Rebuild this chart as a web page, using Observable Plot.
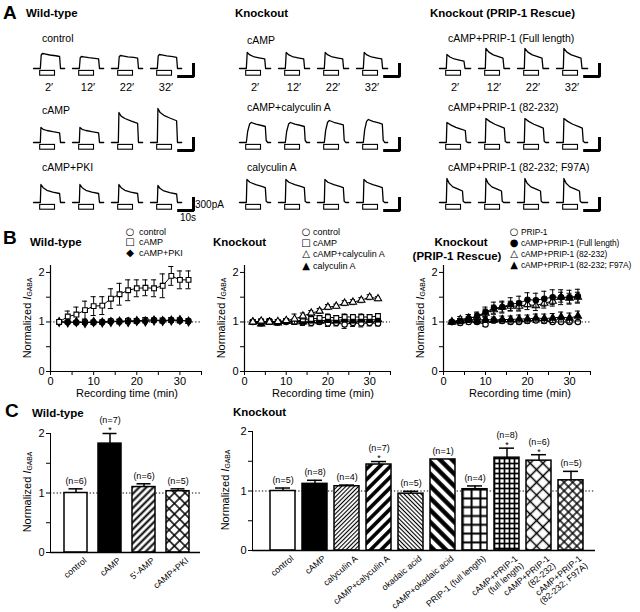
<!DOCTYPE html>
<html><head><meta charset="utf-8">
<script src="https://cdn.jsdelivr.net/npm/d3@7"></script>
<script src="https://cdn.jsdelivr.net/npm/@observablehq/plot@0.6"></script>
<style>
body{margin:0;background:#fff;}
#fig{position:relative;width:640px;height:612px;font-family:"Liberation Sans",Arial,Helvetica,sans-serif;color:#000;overflow:hidden;background:#fff;}
#fig svg{overflow:visible;}
.sym{font-family:"DejaVu Sans",sans-serif;}
sub{font-size:0.62em;vertical-align:-0.25em;}
</style></head><body>
<svg width="0" height="0" style="position:absolute"><defs>
<pattern id="p-wt5" patternUnits="userSpaceOnUse" width="5" height="5" patternTransform="rotate(45)"><rect width="5" height="5" fill="white"/><line x1="2.5" y1="0" x2="2.5" y2="5" stroke="black" stroke-width="2"/></pattern>
<pattern id="p-wtx" patternUnits="userSpaceOnUse" width="7.5" height="7.5" patternTransform="rotate(45)"><rect width="7.5" height="7.5" fill="white"/><line x1="3.75" y1="0" x2="3.75" y2="7.5" stroke="black" stroke-width="1.5"/><line x1="0" y1="3.75" x2="7.5" y2="3.75" stroke="black" stroke-width="1.5"/></pattern>
<pattern id="p-thinR" patternUnits="userSpaceOnUse" width="3" height="3" patternTransform="rotate(45)"><rect width="3" height="3" fill="white"/><line x1="1.5" y1="0" x2="1.5" y2="3" stroke="black" stroke-width="1.1"/></pattern>
<pattern id="p-thickR" patternUnits="userSpaceOnUse" width="7.5" height="7.5" patternTransform="rotate(45)"><rect width="7.5" height="7.5" fill="white"/><line x1="3.75" y1="0" x2="3.75" y2="7.5" stroke="black" stroke-width="3.6"/></pattern>
<pattern id="p-thinL" patternUnits="userSpaceOnUse" width="3" height="3" patternTransform="rotate(-45)"><rect width="3" height="3" fill="white"/><line x1="1.5" y1="0" x2="1.5" y2="3" stroke="black" stroke-width="1.1"/></pattern>
<pattern id="p-thickL" patternUnits="userSpaceOnUse" width="8.5" height="8.5" patternTransform="rotate(-45)"><rect width="8.5" height="8.5" fill="white"/><line x1="4.25" y1="0" x2="4.25" y2="8.5" stroke="black" stroke-width="4.4"/></pattern>
<pattern id="p-gridL" patternUnits="userSpaceOnUse" width="8.8" height="8.8"><rect width="8.8" height="8.8" fill="white"/><line x1="4.4" y1="0" x2="4.4" y2="8.8" stroke="black" stroke-width="2"/><line x1="0" y1="4.4" x2="8.8" y2="4.4" stroke="black" stroke-width="2"/></pattern>
<pattern id="p-gridS" patternUnits="userSpaceOnUse" width="5" height="5"><rect width="5" height="5" fill="white"/><line x1="2.5" y1="0" x2="2.5" y2="5" stroke="black" stroke-width="1.7"/><line x1="0" y1="2.5" x2="5" y2="2.5" stroke="black" stroke-width="1.7"/></pattern>
<pattern id="p-diaL" patternUnits="userSpaceOnUse" width="9" height="9" patternTransform="rotate(45)"><rect width="9" height="9" fill="white"/><line x1="4.5" y1="0" x2="4.5" y2="9" stroke="black" stroke-width="1.5"/><line x1="0" y1="4.5" x2="9" y2="4.5" stroke="black" stroke-width="1.5"/></pattern>
<pattern id="p-diaS" patternUnits="userSpaceOnUse" width="6" height="6" patternTransform="rotate(45)"><rect width="6" height="6" fill="white"/><line x1="3" y1="0" x2="3" y2="6" stroke="black" stroke-width="1.4"/><line x1="0" y1="3" x2="6" y2="3" stroke="black" stroke-width="1.4"/></pattern>
</defs></svg>
<div id="fig"></div>
<script>
// ---------------- DATA ----------------
// Panel A: GABA-evoked currents at 2, 12, 22, 32 min
const times = ["2\u2032", "12\u2032", "22\u2032", "32\u2032"];
const groupTitles = ["Wild-type", "Knockout", "Knockout (PRIP-1 Rescue)"];
const rowLabels = [
  ["control", "cAMP", "cAMP+PKI"],
  ["cAMP", "cAMP+calyculin A", "calyculin A"],
  ["cAMP+PRIP-1 (Full length)", "cAMP+PRIP-1 (82-232)", "cAMP+PRIP-1 (82-232; F97A)"]
];
// peak amplitude (pA) of each of the four traces in each row
const traceAmps = [
  [[375, 300, 325, 350], [375, 375, 750, 850], [450, 450, 450, 425]],
  [[400, 400, 400, 400], [500, 500, 550, 575], [575, 575, 575, 575]],
  [[350, 500, 500, 500], [500, 600, 600, 600], [600, 600, 600, 600]]
];
// current time course: [time (s), fraction of peak]
const traceShapes = [
  [
    [[0,0],[4.6,0],[5.2,0.9],[6,1],[7.5,0.97],[11,0.9],[15,0.85],[17.6,0.8],[18.2,0],[21,0]],
    [[0,0],[4.6,0],[5,1],[6.5,0.88],[9,0.8],[13,0.72],[17.6,0.64],[18.2,0],[21,0]],
    [[0,0],[4.6,0],[5,1],[6.5,0.82],[9,0.68],[13,0.58],[17.6,0.5],[18.2,0],[21,0]]
  ],
  [
    [[0,0],[4.6,0],[5.2,1],[7,0.85],[10,0.72],[14,0.65],[17,0.6],[17.6,0],[21,0]],
    [[0,0],[4.6,0],[5.5,0.55],[6.8,0.92],[8,1],[11,0.92],[15,0.85],[17.4,0.8],[18,0.1],[19,0],[21,0]],
    [[0,0],[4.6,0],[5,1],[7,0.88],[11,0.78],[15,0.7],[17.4,0.65],[18,0.05],[19,0],[21,0]]
  ],
  [
    [[0,0],[4.6,0],[5,1],[7,0.82],[10,0.68],[14,0.58],[16.5,0.52],[17.2,0],[21,0]],
    [[0,0],[4.6,0],[5,1],[7.5,0.88],[11,0.76],[15,0.66],[17.4,0.6],[18,0.05],[19,0],[21,0]],
    [[0,0],[4.6,0],[5,1],[6.5,0.8],[9,0.65],[13,0.55],[15.5,0.48],[16,0.05],[17,0],[21,0]]
  ]
];
const gabaApplication = [4.5, 14.5];   // s
const scaleBar = {pA: 300, s: 10};

// Panel B: normalized I_GABA vs recording time
const minutes = [2,4,6,8,10,12,14,16,18,20,22,24,26,28,30,32];
const wtControl    = [1.0,1.0,0.99,1.0,0.99,1.0,1.02,1.01,1.03,1.02,1.04,1.04,1.03,1.04,1.03,1.02];
const wtControlErr = [0.02,0.03,0.03,0.04,0.04,0.04,0.04,0.05,0.04,0.05,0.05,0.04,0.05,0.05,0.05,0.05];
const wtCAMP       = [1.0,1.11,1.15,1.24,1.32,1.33,1.47,1.56,1.64,1.68,1.69,1.68,1.73,1.93,1.85,1.85];
const wtCAMPErr    = [0.03,0.11,0.15,0.18,0.19,0.18,0.2,0.22,0.21,0.17,0.16,0.17,0.24,0.19,0.18,0.18];
const wtPKI        = [1.0,0.99,1.0,0.98,1.0,0.99,1.0,1.01,1.0,1.02,1.01,1.03,1.02,1.03,1.04,1.01];
const wtPKIErr     = [0.02,0.03,0.03,0.03,0.04,0.03,0.03,0.04,0.03,0.04,0.03,0.04,0.04,0.03,0.04,0.04];

const koControl    = [1.0,0.98,1.02,0.99,1.0,1.01,0.99,0.98,1.0,0.97,0.98,0.95,0.98,0.97,0.98,0.97];
const koControlErr = [0.03,0.05,0.05,0.05,0.04,0.05,0.06,0.06,0.05,0.06,0.06,0.08,0.07,0.07,0.06,0.05];
const koCAMP       = [1.0,1.01,1.0,1.0,1.02,1.0,1.05,1.06,1.08,1.1,1.08,1.1,1.1,1.1,1.1,1.12];
const koCAMPErr    = [0.03,0.04,0.04,0.04,0.04,0.05,0.05,0.05,0.05,0.06,0.05,0.06,0.05,0.06,0.05,0.05];
const koCAMPCal    = [1.0,1.02,1.0,1.01,1.03,1.06,1.12,1.18,1.22,1.3,1.32,1.38,1.4,1.44,1.5,1.47];
const koCAMPCalErr = [0.03,0.04,0.04,0.04,0.04,0.1,0.06,0.05,0.05,0.05,0.04,0.05,0.05,0.05,0.05,0.04];
const koCal        = [1.0,0.96,1.0,0.98,1.01,1.02,1.0,1.03,1.02,1.04,1.03,1.05,1.03,1.05,1.04,1.05];
const koCalErr     = [0.03,0.04,0.04,0.04,0.04,0.04,0.04,0.05,0.04,0.05,0.05,0.05,0.05,0.05,0.05,0.05];

const rsPRIP       = [1.0,0.98,1.0,1.0,0.95,1.03,1.02,1.0,1.0,1.02,1.03,1.02,1.0,1.0,1.0,1.0];
const rsPRIPErr    = [0.03,0.04,0.04,0.04,0.04,0.04,0.04,0.04,0.04,0.04,0.04,0.04,0.04,0.03,0.03,0.03];
const rsFull       = [1.0,1.02,1.07,1.12,1.2,1.28,1.3,1.36,1.38,1.45,1.44,1.47,1.5,1.5,1.5,1.52];
const rsFullErr    = [0.03,0.05,0.08,0.08,0.1,0.12,0.12,0.13,0.14,0.14,0.14,0.15,0.15,0.15,0.14,0.14];
const rs82         = [1.0,1.05,1.08,1.1,1.18,1.25,1.3,1.32,1.32,1.35,1.33,1.38,1.42,1.5,1.48,1.5];
const rs82Err      = [0.03,0.06,0.07,0.08,0.08,0.09,0.1,0.1,0.1,0.1,0.1,0.1,0.1,0.1,0.1,0.1];
const rsF97A       = [1.0,1.02,1.05,1.03,1.05,1.04,1.05,1.05,1.06,1.06,1.08,1.07,1.08,1.1,1.08,1.12];
const rsF97AErr    = [0.03,0.05,0.05,0.06,0.06,0.06,0.07,0.07,0.08,0.08,0.08,0.09,0.09,0.1,0.1,0.1];

// Panel C: normalized I_GABA at 32 min
const wtCats  = ["control", "cAMP", "5'-AMP", "cAMP+PKI"];
const wtMeans = [1.0, 1.83, 1.10, 1.03];
const wtErrs  = [0.07, 0.17, 0.055, 0.04];
const wtNs    = [6, 7, 6, 5];
const wtSig   = [false, true, false, false];

const koCats  = ["control", "cAMP", "calyculin A", "cAMP+calyculin A", "okadaic acid", "cAMP+okadaic acid",
                 "PRIP-1 (full length)", "cAMP+PRIP-1\n(full length)", "cAMP+PRIP-1\n(82-232)", "cAMP+PRIP-1\n(82-232; F97A)"];
const koMeans = [1.0, 1.12, 1.08, 1.445, 0.955, 1.53, 1.03, 1.56, 1.51, 1.18];
const koErrs  = [0.05, 0.06, 0.02, 0.05, 0.04, 0, 0.055, 0.16, 0.1, 0.15];
const koNs    = [5, 8, 4, 7, 5, 1, 4, 8, 6, 5];
const koSig   = [false, false, false, true, false, false, false, true, true, false];

// ---------------- STYLES ----------------
const FONT = '"Liberation Sans", Arial, Helvetica, sans-serif';
const wtFills = ["white", "black", "url(#p-wt5)", "url(#p-wtx)"];
const koFills = ["white", "black", "url(#p-thinR)", "url(#p-thickR)", "url(#p-thinL)", "url(#p-thickL)",
                 "url(#p-gridL)", "url(#p-gridS)", "url(#p-diaL)", "url(#p-diaS)"];

const fig = document.getElementById("fig");
function put(el, left, top) {
  el.style.position = "absolute"; el.style.left = left + "px"; el.style.top = top + "px";
  fig.appendChild(el);
}
function label(html, x, y, o = {}) {
  const d = document.createElement("div");
  d.innerHTML = html;
  const tx = o.anchor === "middle" ? "-50%" : o.anchor === "end" ? "-100%" : "0";
  d.style.cssText = `position:absolute;left:${x}px;top:${y}px;white-space:nowrap;line-height:1;` +
    `font-size:${o.size || 11}px;font-weight:${o.bold ? "bold" : "normal"};` +
    (o.ls ? `letter-spacing:${o.ls}px;` : "") +
    `transform:translate(${tx},-50%)${o.rotate ? ` rotate(${o.rotate}deg)` : ""};`;
  if (o.cls) d.className = o.cls;
  fig.appendChild(d);
}
function yLabel(x, y) {
  const d = document.createElement("div");
  d.innerHTML = 'Normalized <i>I</i><sub>GABA</sub>';
  d.style.cssText = `position:absolute;left:${x}px;top:${y}px;white-space:nowrap;line-height:1;font-size:11px;transform:translate(-50%,-50%) rotate(-90deg);`;
  fig.appendChild(d);
}

// ---------------- PANEL A ----------------
const groupLeft = [28, 234, 434];
const rowBase = [68, 142, 202];
function traceRow(g, r) {
  const shape = traceShapes[g][r], amps = traceAmps[g][r];
  const pts = [];
  times.forEach((tm, i) => shape.forEach(([t, f]) => pts.push({time: tm, id: i, t, pA: f * amps[i]})));
  const stimData = times.map(tm => ({time: tm, start: gabaApplication[0], end: gabaApplication[1]}));
  const t0 = 19, p0 = -200;
  const sb = [{time: times[3], t: t0, pA: p0}, {time: times[3], t: t0 + scaleBar.s, pA: p0},
              {time: times[3], t: t0 + scaleBar.s, pA: p0 + scaleBar.pA}];
  const first = r === 0;
  return Plot.plot({
    width: 190, height: first ? 70 : 50,
    marginLeft: 0, marginRight: 32, marginTop: 0, marginBottom: first ? 20 : 0,
    x: {domain: [-2.7, 23.6], axis: null},
    y: {domain: [-250, 1000], axis: null},
    fx: {domain: times, padding: 0, axis: first ? "bottom" : null, tickSize: 0, tickPadding: 5, label: null},
    style: {fontFamily: FONT, fontSize: "11px", background: "transparent"},
    marks: [
      Plot.rect(stimData, {fx: "time", x1: "start", x2: "end", y1: -60, y2: -180, fill: "white", stroke: "black", strokeWidth: 1.1}),
      Plot.line(pts, {fx: "time", x: "t", y: "pA", z: "id", stroke: "black", strokeWidth: 1.3, curve: "linear"}),
      Plot.line(sb, {fx: "time", x: "t", y: "pA", stroke: "black", strokeWidth: 3, strokeLinejoin: "miter", strokeLinecap: "square"})
    ]
  });
}
label("A", 3, 12, {size: 19, bold: true});
groupTitles.forEach((t, g) => label(t, [26, 235, 430][g], 14, {bold: true, size: 11.5}));
const rowLabelY = [[38, 110, 167], [40, 107, 167], [38, 107, 167]];
const rowLabelX = [42, 247, 448];
for (let g = 0; g < 3; g++) for (let r = 0; r < 3; r++) {
  label(rowLabels[g][r], rowLabelX[g], rowLabelY[g][r], {size: 10.5});
  put(traceRow(g, r), groupLeft[g], rowBase[r] - 40);
}
label(scaleBar.pA + "pA", 195, 205, {size: 10});
label(scaleBar.s + "s", 180, 218, {size: 10});

// ---------------- PANEL B ----------------
function series(name, v, e, symbol, fill) { return {name, v, e, symbol, fill}; }
function timeChart(list, pxPerMin) {
  const w = Math.round(35 * pxPerMin);
  const marks = [Plot.ruleY([1], {strokeDasharray: "1.3,2", strokeWidth: 1})];
  for (const s of list) {
    const d = minutes.map((t, i) => ({t, v: s.v[i], e: s.e[i]}));
    marks.push(
      Plot.line(d, {x: "t", y: "v", stroke: "black", strokeWidth: 1}),
      Plot.ruleX(d, {x: "t", y1: p => p.v - p.e, y2: p => p.v + p.e, strokeWidth: 1}),
      Plot.ruleY(d, {y: p => p.v + p.e, x1: p => p.t - 0.6, x2: p => p.t + 0.6, strokeWidth: 1}),
      Plot.ruleY(d, {y: p => p.v - p.e, x1: p => p.t - 0.6, x2: p => p.t + 0.6, strokeWidth: 1}),
      Plot.dot(d, {x: "t", y: "v", symbol: s.symbol, fill: s.fill, stroke: "black", strokeWidth: 1.1, r: 2.7})
    );
  }
  marks.push(Plot.ruleX([0], {strokeWidth: 1.2}), Plot.ruleY([0], {strokeWidth: 1.2}));
  return Plot.plot({
    width: 40 + w + 12, height: 163, marginLeft: 40, marginRight: 12, marginTop: 17, marginBottom: 40,
    x: {domain: [0, 35], ticks: [0, 5, 10, 15, 20, 25, 30, 35], tickFormat: d => d % 10 === 0 ? d : "", tickSize: 4, tickPadding: 2, label: null},
    y: {domain: [0, 2.14], ticks: [0, 0.5, 1, 1.5, 2], tickFormat: d => Number.isInteger(d) ? d : "", tickSize: 4, tickPadding: 2, label: null},
    style: {fontFamily: FONT, fontSize: "11px", background: "transparent"},
    marks
  });
}
label("B", 3, 237, {size: 19, bold: true});
label("Wild-type", 30, 243, {bold: true, size: 11.5});
label("Knockout", 213, 243, {bold: true, size: 11.5});
label("Knockout", 461, 243, {bold: true, size: 11.5, anchor: "middle"});
label("(PRIP-1 Rescue)", 457, 257, {bold: true, size: 11.5, anchor: "middle"});

put(timeChart([
  series("control", wtControl, wtControlErr, "circle", "white"),
  series("cAMP+PKI", wtPKI, wtPKIErr, "diamond", "black"),
  series("cAMP", wtCAMP, wtCAMPErr, "square", "white")
], 4.3), 10, 248);
put(timeChart([
  series("control", koControl, koControlErr, "circle", "white"),
  series("calyculin A", koCal, koCalErr, "triangle", "black"),
  series("cAMP", koCAMP, koCAMPErr, "square", "white"),
  series("cAMP+calyculin A", koCAMPCal, koCAMPCalErr, "triangle", "white")
], 4.17), 204, 248);
put(timeChart([
  series("PRIP-1", rsPRIP, rsPRIPErr, "circle", "white"),
  series("F97A", rsF97A, rsF97AErr, "triangle", "black"),
  series("82-232", rs82, rs82Err, "triangle", "white"),
  series("full", rsFull, rsFullErr, "circle", "black")
], 4.2), 403, 248);

function legend(items, sx, tx, ys, size, ls) {
  items.forEach(([sym, text], i) => {
    label(`<span class="sym">${sym}</span>`, sx, ys[i], {size: 10, anchor: "middle"});
    label(text, tx, ys[i], {size, ls});
  });
}
legend([["\u25CB", "control"], ["\u25A1", "cAMP"], ["\u25C6", "cAMP+PKI"]], 130, 139, [232, 242, 253], 9);
legend([["\u25CB", "control"], ["\u25A1", "cAMP"], ["\u25B3", "cAMP+calyculin A"], ["\u25B2", "calyculin A"]], 306, 313, [232, 243, 254, 266], 9);
legend([["\u25CB", "PRIP-1"], ["\u25CF", "cAMP+PRIP-1 (Full length)"], ["\u25B3", "cAMP+PRIP-1 (82-232)"], ["\u25B2", "cAMP+PRIP-1 (82-232; F97A)"]], 514, 521, [232, 243, 254, 265], 8.4, -0.1);
[127, 323, 520].forEach(x => label("Recording time (min)", x, 393, {anchor: "middle"}));
[28, 222, 421].forEach(x => yLabel(x, 318));

// ---------------- PANEL C ----------------
function barChart(cats, means, errs, ns, sig, fills, o) {
  const data = cats.map((c, i) => ({c, m: means[i], e: errs[i], n: ns[i], s: sig[i], f: fills[i]}));
  const withErr = data.filter(d => d.e > 0);
  return Plot.plot({
    width: 40 + o.axisW + o.mr, height: 206, marginLeft: 40, marginRight: o.mr, marginTop: 25, marginBottom: 62,
    x: {domain: cats, paddingInner: o.pi, paddingOuter: o.po, align: o.align, axis: null},
    y: {domain: [0, 2], ticks: [0, 0.5, 1, 1.5, 2], tickFormat: d => Number.isInteger(d) ? d : "", tickSize: 4, tickPadding: 2, label: null, line: true},
    color: {type: "identity"},
    style: {fontFamily: FONT, fontSize: "11px", background: "transparent"},
    marks: [
      Plot.ruleY([1], {strokeDasharray: "1.3,2", strokeWidth: 1}),
      Plot.barY(data, {x: "c", y: "m", fill: "f", stroke: "black", strokeWidth: 1.5}),
      Plot.ruleX(withErr, {x: "c", y1: "m", y2: d => d.m + d.e, strokeWidth: 1.5}),
      Plot.tickY(withErr, {x: "c", y: d => d.m + d.e, insetLeft: o.cap, insetRight: o.cap, strokeWidth: 1.5}),
      Plot.text(data.filter(d => !d.s), {x: "c", y: d => d.m + d.e, text: d => `(n=${d.n})`, dy: -8, fontSize: 9}),
      Plot.text(data.filter(d => d.s), {x: "c", y: d => d.m + d.e, text: d => `(n=${d.n})`, dy: -13, fontSize: 9}),
      Plot.text(data.filter(d => d.s), {x: "c", y: d => d.m + d.e, text: () => "*", dy: -3, fontSize: 9}),
      Plot.ruleY([0], {strokeWidth: 1.5}),
      Plot.text(data, {x: "c", text: "c", frameAnchor: "bottom", rotate: -40, textAnchor: "end", lineAnchor: "top", dy: 4, dx: 7, fontSize: 8.8, lineHeight: 1.05})
    ]
  });
}
label("C", 5, 410, {size: 19, bold: true});
label("Wild-type", 32, 414, {bold: true, size: 11.5});
label("Knockout", 233, 413, {bold: true, size: 11.5});
put(barChart(wtCats, wtMeans, wtErrs, wtNs, wtSig, wtFills, {axisW: 150, mr: 15, pi: 0.31, po: 0.316, align: 0.59, cap: 4.5}), 10, 408);
put(barChart(koCats, koMeans, koErrs, koNs, koSig, koFills, {axisW: 343, mr: 12, pi: 0.212, po: 0.303, align: 0.6, cap: 5}), 212, 406);
yLabel(28, 492);
yLabel(226, 490);
</script>
</body></html>
